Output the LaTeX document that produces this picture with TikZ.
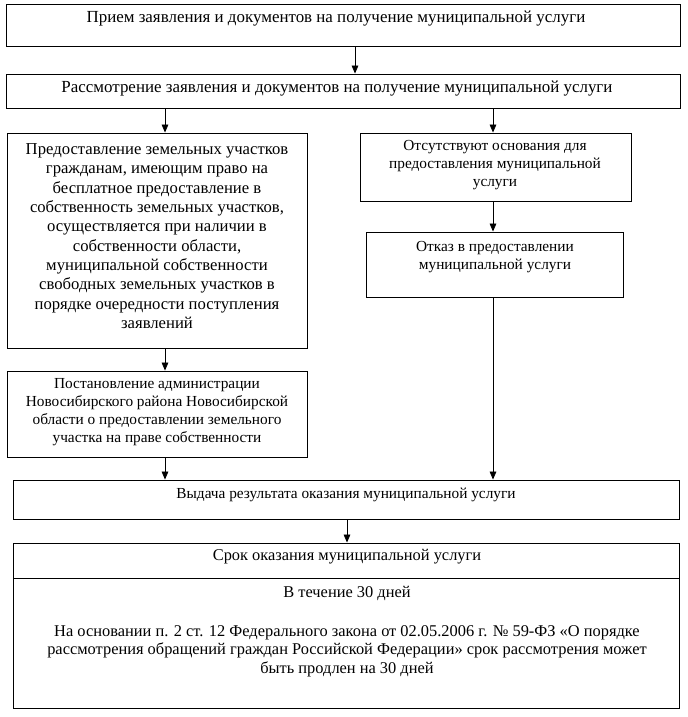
\documentclass[tikz,border=0pt]{standalone}
\usepackage{fontspec}
\setmainfont{Liberation Serif}
\usetikzlibrary{arrows.meta, positioning, fit}
\tikzset{
  pbox/.style={draw=black, line width=0.7pt, inner sep=0pt},
  ptext/.style={align=center, inner sep=0pt, font=\fontsize{12.5}{14.5}\selectfont},
  ptextw/.style={align=center, inner sep=0pt, font=\fontsize{12.7}{15}\selectfont},
  ptexts/.style={align=center, inner sep=0pt, font=\fontsize{11.5}{13.6}\selectfont},
  ptextb/.style={align=center, inner sep=0pt, font=\fontsize{12.3}{13.9}\selectfont},
  flow/.style={-{Triangle[length=6pt, width=5pt]}, line width=0.6pt},
}
\begin{document}
\begin{tikzpicture}[x=0.75pt, y=-0.75pt]
    \useasboundingbox (0,0) rectangle (688,717);
    % boxes
    \node[pbox, fit={(6,4)(680,46)}] (b1) {};
    \node[pbox, fit={(6,74)(680,108)}] (b2) {};
    \node[pbox, fit={(7,133)(307,348)}] (b3) {};
    \node[pbox, fit={(360,133)(631,201)}] (b4) {};
    \node[pbox, fit={(366,232)(623,297)}] (b5) {};
    \node[pbox, fit={(7,371)(307,457)}] (b6) {};
    \node[pbox, fit={(13,480)(679,519)}] (b7) {};
    \node[pbox, fit={(13,543)(679,578)}] (b8) {};
    \node[pbox, fit={(13,578)(679,708)}] (b9) {};
    % texts
    \node[ptextw] (t1) at (336,19) {Прием заявления и документов на получение муниципальной услуги};
    \node[ptextw] (t2) at (337,89) {Рассмотрение заявления и документов на получение муниципальной услуги};
    \node[ptext] (t3) at (157,236) {Предоставление земельных участков\\гражданам, имеющим право на\\бесплатное предоставление в\\собственность земельных участков,\\осуществляется при наличии в\\собственности области,\\муниципальной собственности\\свободных земельных участков в\\порядке очередности поступления\\заявлений};
    \node[ptexts] (t4) at (495,165) {Отсутствуют основания для\\предоставления муниципальной\\услуги};
    \node[ptexts] (t5) at (495,257) {Отказ в предоставлении\\муниципальной услуги};
    \node[ptexts] (t6) at (157,412) {Постановление администрации\\Новосибирского района Новосибирской\\области о предоставлении земельного\\участка на праве собственности};
    \node[ptexts] (t7) at (346,495) {Выдача результата оказания муниципальной услуги};
    \node[ptextb] (t8) at (347,557) {Срок оказания муниципальной услуги};
    \node[ptextb] (t9) at (347,593) {В течение 30 дней};
    \node[ptextb] (t10) at (347,651) {На основании п. 2 ст. 12 Федерального закона от 02.05.2006 г. № 59-ФЗ «О порядке\\рассмотрения обращений граждан Российской Федерации» срок рассмотрения может\\быть продлен на 30 дней};
    % arrows
    \draw[flow] (b1.south -| 355,0) -- (b2.north -| 355,0);
    \draw[flow] (b2.south -| 165,0) -- (b3.north -| 165,0);
    \draw[flow] (b2.south -| 493,0) -- (b4.north -| 493,0);
    \draw[flow] (b4.south -| 493,0) -- (b5.north -| 493,0);
    \draw[flow] (b3.south -| 165,0) -- (b6.north -| 165,0);
    \draw[flow] (b5.south -| 493,0) -- (b7.north -| 493,0);
    \draw[flow] (b6.south -| 165,0) -- (b7.north -| 165,0);
    \draw[flow] (b7.south -| 347,0) -- (b8.north -| 347,0);
\end{tikzpicture}
\end{document}
